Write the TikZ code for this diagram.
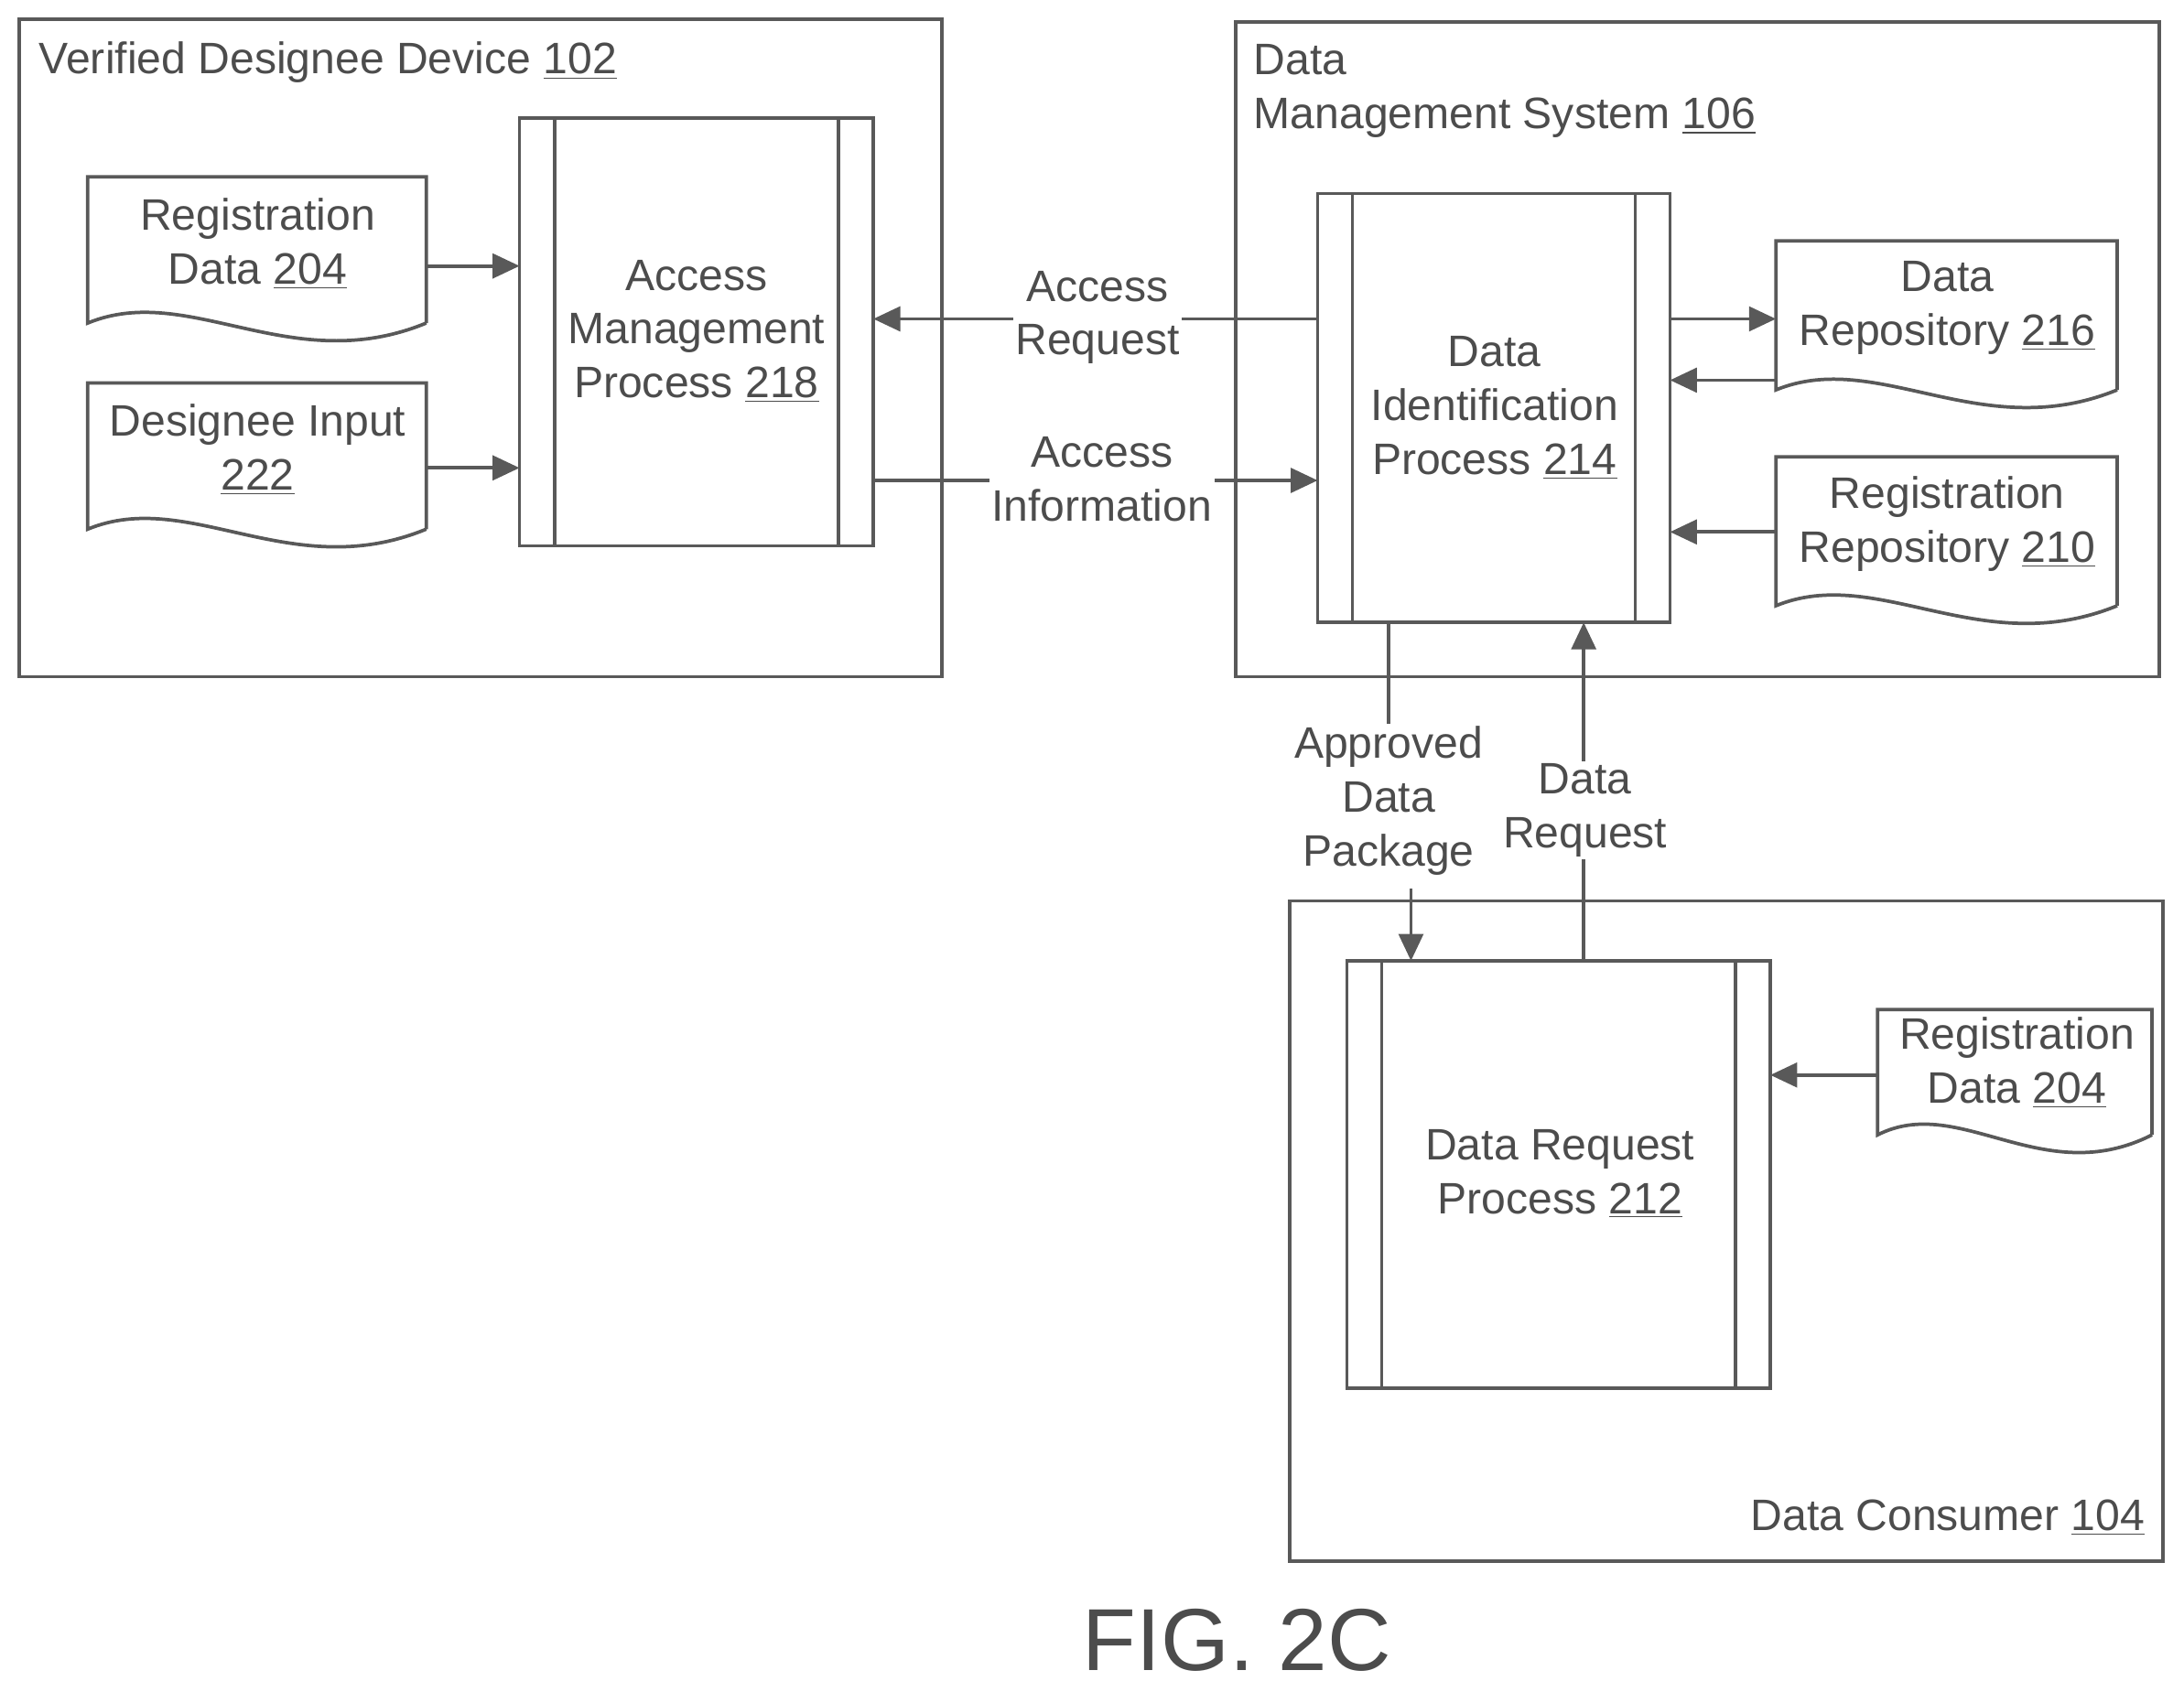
\documentclass[tikz,border=0pt]{standalone}
\usepackage{fontspec}
\setmainfont{Liberation Sans}
\usetikzlibrary{arrows.meta}
\begin{document}
\begin{tikzpicture}[x=0.02cm,y=-0.02cm,
  ln/.style={draw=black!65,line width=1.4pt},
  box/.style={ln},
  arr/.style={ln,-{Triangle[length=11pt,width=10pt]}},
  txt/.style={font=\fontsize{18}{22}\selectfont,align=center,text=black!70,inner sep=1pt},
  lab/.style={txt,fill=white}]
\useasboundingbox (0,0) rectangle (1568,1215);
\newcommand{\procbox}[5]{%
  \draw[box] (#1,#2) rectangle (#3,#4);
  \draw[box] (#1+25,#2) -- (#1+25,#4);
  \draw[box] (#3-25,#2) -- (#3-25,#4);
  \node[txt] (#5) at ({(#1+#3)/2},{(#2+#4)/2}) {};}
\newcommand{\docshape}[4]{%
  \draw[box] (#3,#4) -- (#3,#2) -- (#1,#2) -- (#1,#4)
   .. controls ({#1+0.3*(#3-#1)},{#4-30}) and ({#1+0.6*(#3-#1)},{#4+40}) .. (#3,#4);}
% VDD
\draw[box] (14,14) rectangle (676,486);
\node[txt,anchor=west] (vddt) at (26,45) {Verified Designee Device \underline{102}};
\procbox{373}{85}{627}{392}{amp}
\node[txt] (ampt) at (500,238) {Access\\Management\\Process \underline{218}};
\docshape{63}{127}{306}{232}
\node[txt] (rd1) at (185,175) {Registration\\Data \underline{204}};
\docshape{63}{275}{306}{380}
\node[txt] (di) at (185,323) {Designee Input\\\underline{222}};
\coordinate (a1) at (306,191); \coordinate (a1e) at (373,191);
\coordinate (a2) at (306,336); \coordinate (a2e) at (373,336);
\draw[arr] (a1) -- (a1e);
\draw[arr] (a2) -- (a2e);
% DMS
\draw[box] (887,16) rectangle (1550,486);
\node[txt,anchor=north west,align=left] (dmst) at (898,30) {Data\\Management System \underline{106}};
\procbox{946}{139}{1199}{447}{dip}
\node[txt] (dipt) at (1073,293) {Data\\Identification\\Process \underline{214}};
\docshape{1275}{173}{1520}{280}
\node[txt] (dr) at (1398,221) {Data\\Repository \underline{216}};
\docshape{1275}{328}{1520}{435}
\node[txt] (rr) at (1398,376) {Registration\\Repository \underline{210}};
\coordinate (b1) at (1199,229); \coordinate (b1e) at (1275,229);
\coordinate (b2) at (1275,273); \coordinate (b2e) at (1199,273);
\coordinate (b3) at (1275,382); \coordinate (b3e) at (1199,382);
\draw[arr] (b1) -- (b1e);
\draw[arr] (b2) -- (b2e);
\draw[arr] (b3) -- (b3e);
% access request / info
\coordinate (ar) at (946,229); \coordinate (are) at (627,229);
\draw[arr] (ar) -- (are);
\node[lab] (arl) at (788,228) {Access\\Request};
\coordinate (ai) at (627,345); \coordinate (aie) at (946,345);
\draw[arr] (ai) -- (aie);
\node[lab] (ail) at (791,344) {Access\\Information};
% DC
\draw[box] (926,647) rectangle (1553,1121);
\node[txt,anchor=east] (dct) at (1542,1090) {Data Consumer \underline{104}};
\procbox{967}{690}{1271}{997}{drp}
\node[txt] (drpt) at (1120,843) {Data Request\\Process \underline{212}};
\docshape{1348}{725}{1545}{815}
\node[txt] (rd2) at (1448,763) {Registration\\Data \underline{204}};
\coordinate (c1) at (1348,772); \coordinate (c1e) at (1271,772);
\draw[arr] (c1) -- (c1e);
% vertical
\coordinate (p1) at (997,447); \coordinate (p1e) at (997,520);
\draw[ln] (p1) -- (p1e);
\node[txt] (adp) at (997,575) {Approved\\Data\\Package};
\coordinate (p2) at (1013,638); \coordinate (p2e) at (1013,690);
\draw[arr] (p2) -- (p2e);
\coordinate (q1) at (1137,690); \coordinate (q1e) at (1137,447);
\draw[arr] (q1) -- (q1e);
\node[lab] (drl) at (1138,582) {Data\\Request};
\node[font=\fontsize{36}{40}\selectfont,text=black!70,inner sep=0pt] (fig) at (888,1178) {FIG. 2C};
\end{tikzpicture}
\end{document}
